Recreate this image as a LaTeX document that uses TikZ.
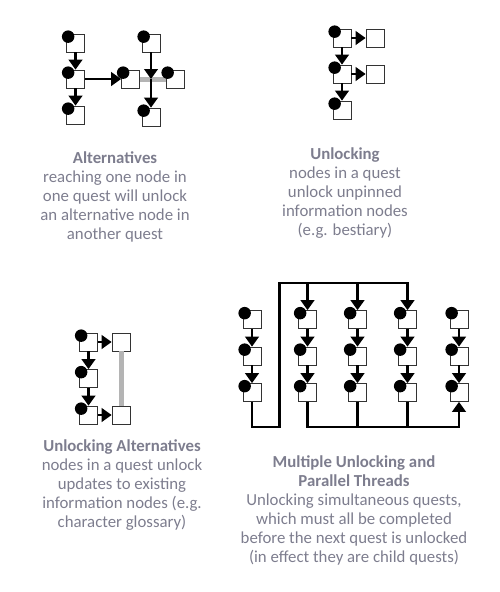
\documentclass[tikz,border=0pt]{standalone}
\usepackage{fontspec}
\setmainfont{Carlito}
\usetikzlibrary{positioning,arrows.meta,calc}
\definecolor{captiongray}{RGB}{125,125,142}
\definecolor{linkgray}{RGB}{180,180,180}

\begin{document}
\begin{tikzpicture}[x=1pt, y=-1pt,
  qbox/.style={draw=black!80, fill=white, line width=0.7pt, minimum size=18pt, inner sep=0pt},
  qdot/.style={circle, fill=black, minimum size=12.5pt, inner sep=0pt},
  flow/.style={line width=2.9pt, -{Triangle[width=13.5pt,length=10pt]}},
  wire/.style={line width=2.9pt},
  link/.style={line width=5pt, color=linkgray},
  caption/.style={font=\fontsize{16.8}{19}\selectfont, text=captiongray, align=center, anchor=north, inner sep=0pt}]
  \useasboundingbox (0,0) rectangle (499,592);

  % Alternatives
  \node[qbox] (a1) at (75.5,43) {};
  \node[qbox] (a2) at (75.5,79) {};
  \node[qbox] (a3) at (75.5,115) {};
  \node[qbox] (b1) at (151,43) {};
  \node[qbox] (b2) at (130.5,79) {};
  \node[qbox] (b3) at (175,79) {};
  \node[qbox] (b4) at (151,117) {};
  \draw[flow] (a1) -- (a2);
  \draw[flow] (a2) -- (a3);
  \draw[flow] (a2) -- (b2);
  \draw[link] (b2) -- (b3);
  \draw[flow] (b1) -- (b1 |- b2.east);
  \draw[flow] (b1 |- b2.east) -- (b4);

  % Unlocking
  \node[qbox] (u1) at (342,38) {};
  \node[qbox] (u2) at (342,74) {};
  \node[qbox] (u3) at (342,110) {};
  \node[qbox] (v1) at (375,38) {};
  \node[qbox] (v2) at (375,74) {};
  \draw[flow] (u1) -- (u2);
  \draw[flow] (u2) -- (u3);
  \draw[flow] (u1) -- (v1);
  \draw[flow] (u2) -- (v2);

  % Unlocking alternatives
  \node[qbox] (p1) at (88.5,342) {};
  \node[qbox] (p2) at (88.5,378.5) {};
  \node[qbox] (p3) at (88.5,415) {};
  \node[qbox] (r1) at (121,342) {};
  \node[qbox] (r3) at (121,415) {};
  \draw[link] (r1) -- (r3);
  \draw[flow] (p1) -- (p2);
  \draw[flow] (p2) -- (p3);
  \draw[flow] (p1) -- (r1);
  \draw[flow] (p3) -- (r3);

  % Multiple unlocking and parallel threads
  \foreach \c/\x in {1/252,2/307.5,3/357.5,4/407.5,5/459}
    \foreach \r/\y in {1/319.5,2/356,3/392.5}
      \node[qbox] (m\c\r) at (\x,\y) {};
  \foreach \c in {1,...,5} {
    \draw[flow] (m\c1) -- (m\c2);
    \draw[flow] (m\c2) -- (m\c3);
  }
  \coordinate (jtop) at (279.5,283);
  \coordinate (jbot) at (279.5,427);
  \draw[flow] (m13.south) |- (jbot) -- (jtop) -| (m41.north);
  \draw[flow] (jtop -| m21) -- (m21);
  \draw[flow] (jtop -| m31) -- (m31);
  \draw[flow] (m23.south) -- (m23 |- jbot) -| (m53.south);
  \draw[wire] (m33.south) -- (m33 |- jbot);
  \draw[wire] (m43.south) -- (m43 |- jbot);

  % Pins
  \foreach \q in {a1,a2,a3,b1,b2,b3,b4,u1,u2,u3,p1,p2,p3,
                  m11,m12,m13,m21,m22,m23,m31,m32,m33,m41,m42,m43,m51,m52,m53}
    \node[qdot] at ([shift={(2,3)}]\q.north west) {};

  % Captions
  \node[caption] (altcap) at (115,151) {\textbf{Alternatives}\\reaching one node in\\one quest will unlock\\an alternative node in\\another quest};
  \node[caption] (unlcap) at (345,148) {\textbf{Unlocking}\\nodes in a quest\\unlock unpinned\\information nodes\\(e.g. bestiary)};
  \node[caption] (ualtcap) at (122,439.5) {\textbf{Unlocking Alternatives}\\nodes in a quest unlock\\updates to existing\\information nodes (e.g.\\character glossary)};
  \node[caption] (multcap) at (354,455) {\textbf{Multiple Unlocking and}\\\textbf{Parallel Threads}\\Unlocking simultaneous quests,\\which must all be completed\\before the next quest is unlocked\\(in effect they are child quests)};
\end{tikzpicture}
\end{document}
